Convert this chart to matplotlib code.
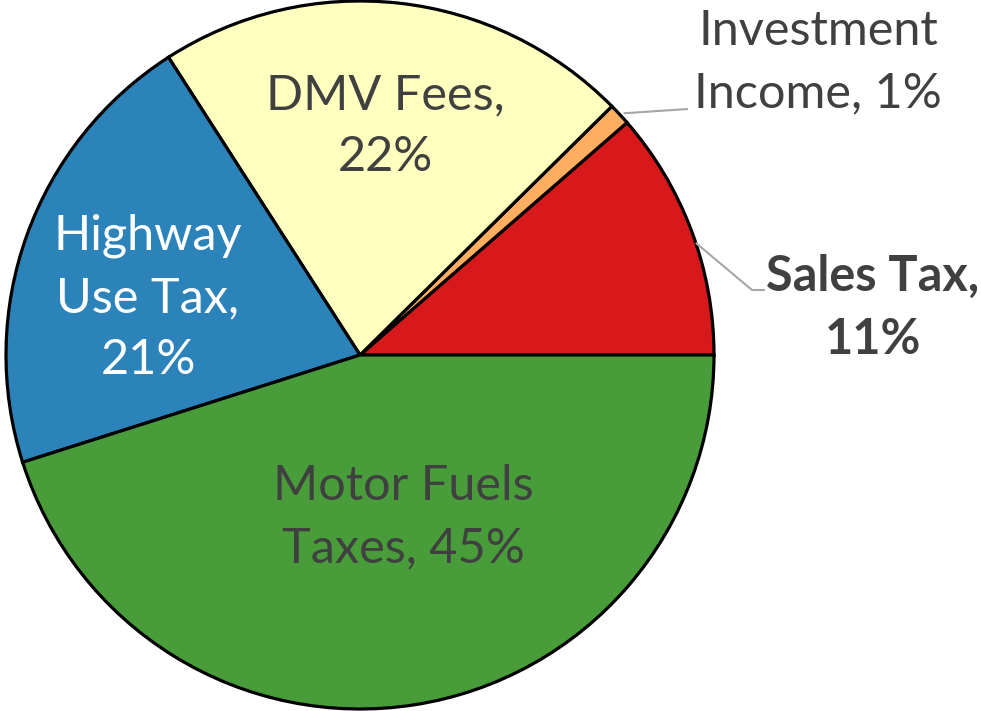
import numpy as np
import matplotlib
matplotlib.use('Agg')
import matplotlib.pyplot as plt

plt.rcParams['font.family'] = ['Lato', 'DejaVu Sans']

# --- data ---
labels = ['Sales Tax', 'Investment Income', 'DMV Fees', 'Highway Use Tax', 'Motor Fuels Taxes']
shares = [11.4, 1.0, 21.7, 20.8, 45.1]
shown = ['11%', '1%', '22%', '21%', '45%']
colors = ['#d7191c', '#fdae61', '#ffffbf', '#2b83ba', '#489d3a']

W, H = 981, 711
fig = plt.figure(figsize=(W / 100, H / 100), dpi=100)
ax = fig.add_axes([0, 0, 1, 1])

cx, cy, r = 360, H - 355, 354
wedges, _ = ax.pie(shares, colors=colors, startangle=0, counterclock=True,
                   center=(cx, cy), radius=r,
                   wedgeprops=dict(edgecolor='black', linewidth=2.3))
ax.set_xlim(0, W)
ax.set_ylim(0, H)
ax.set_aspect('equal')
ax.axis('off')

txt = '#404040'
fs = 35
ls = 1.5

def edge_point(w, frac=0.5):
    a = np.deg2rad(w.theta1 + (w.theta2 - w.theta1) * frac)
    return cx + r * np.cos(a), cy + r * np.sin(a)

# inside labels
ax.text(385, H - 126, 'DMV Fees,\n' + shown[2], ha='center', va='center',
        fontsize=fs, color=txt, linespacing=ls)
ax.text(148, H - 298, 'Highway\nUse Tax,\n' + shown[3], ha='center', va='center',
        fontsize=fs, color='white', linespacing=ls)
ax.text(403, H - 517, 'Motor Fuels\nTaxes, ' + shown[4], ha='center', va='center',
        fontsize=fs, color=txt, linespacing=ls)

# Sales Tax, outside with leader
x0, y0 = edge_point(wedges[0], 0.45)
ax.plot([x0, 752, 765], [y0, H - 290, H - 290], color='#a6a6a6', lw=1.5,
        solid_capstyle='butt', zorder=1)
ax.text(873, H - 308, 'Sales Tax,\n' + shown[0], ha='center', va='center',
        fontsize=fs, color=txt, fontweight='bold', linespacing=ls)

# Investment Income, outside with leader
x1, y1 = edge_point(wedges[1], 0.5)
ax.plot([x1 + 4, 688], [y1 + 1, H - 109], color='#a6a6a6', lw=1.5,
        solid_capstyle='butt', zorder=1)
ax.text(818, H - 62, 'Investment\nIncome, ' + shown[1], ha='center', va='center',
        fontsize=fs, color=txt, linespacing=ls)

fig.savefig('out.png', dpi=100)
